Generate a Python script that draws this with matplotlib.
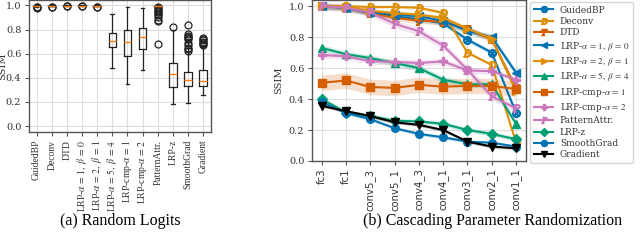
import matplotlib
matplotlib.use("Agg")
import matplotlib.pyplot as plt
import numpy as np

plt.rcParams['mathtext.fontset'] = 'stix'

# ---- (a) Random Logits: box statistics per method
methods_a = ["GuidedBP", "Deconv", "DTD",
             r"LRP-$\alpha\,=\,1,\ \beta\,=\,0$", r"LRP-$\alpha\,=\,2,\ \beta\,=\,1$",
             r"LRP-$\alpha\,=\,5,\ \beta\,=\,4$",
             r"LRP-cmp-$\alpha\,=\,1$", r"LRP-cmp-$\alpha\,=\,2$", "PatternAttr.",
             "LRP-z", "SmoothGrad", "Gradient"]
med = [0.997, 0.998, 0.999, 0.999, 0.998, 0.704, 0.698, 0.735, 0.998, 0.428, 0.380, 0.375]
q1 = [0.995, 0.996, 0.998, 0.998, 0.996, 0.652, 0.582, 0.638, 0.996, 0.320, 0.334, 0.330]
q3 = [0.999, 0.999, 1.000, 1.000, 0.999, 0.768, 0.800, 0.815, 0.999, 0.520, 0.450, 0.464]
wlo = [0.990, 0.992, 0.995, 0.995, 0.992, 0.478, 0.345, 0.464, 0.990, 0.180, 0.188, 0.255]
whi = [1.000, 1.000, 1.000, 1.000, 1.000, 0.928, 0.990, 0.975, 1.000, 0.795, 0.700, 0.665]
fliers = [[0.985, 0.980, 0.988], [0.989, 0.990], [0.993, 0.992], [0.993, 0.992], [0.989, 0.990],
          [], [], [],
          [0.985, 0.975, 0.965, 0.955, 0.945, 0.93, 0.92, 0.90, 0.88, 0.87, 0.677],
          [0.82],
          [0.835, 0.76, 0.75, 0.74, 0.73, 0.72, 0.69, 0.67, 0.65, 0.64, 0.62],
          [0.73, 0.72, 0.71, 0.70, 0.69, 0.68, 0.67]]

# ---- (b) Cascading Parameter Randomization
layers = ["fc3", "fc1", "conv5_3", "conv5_1", "conv4_3", "conv4_1", "conv3_1", "conv2_1", "conv1_1"]
names_b = ["GuidedBP", "Deconv", "DTD",
           r"LRP-$\alpha\,=\,1,\ \beta\,=\,0$", r"LRP-$\alpha\,=\,2,\ \beta\,=\,1$",
           r"LRP-$\alpha\,=\,5,\ \beta\,=\,4$",
           r"LRP-cmp-$\alpha\,=\,1$", r"LRP-cmp-$\alpha\,=\,2$", "PatternAttr.",
           "LRP-z", "SmoothGrad", "Gradient"]
guided = [1.0, 0.99, 0.955, 0.935, 0.915, 0.89, 0.784, 0.70, 0.31]
deconv = [1.0, 1.0, 0.995, 0.995, 0.99, 0.957, 0.70, 0.62, 0.12]
dtd = [1.0, 0.99, 0.955, 0.925, 0.907, 0.90, 0.85, 0.785, 0.47]
lrp_a1 = [1.0, 0.99, 0.96, 0.946, 0.935, 0.905, 0.84, 0.80, 0.57]
lrp_a2 = [1.0, 0.995, 0.97, 0.955, 0.945, 0.925, 0.855, 0.79, 0.45]
lrp_a5 = [0.73, 0.69, 0.665, 0.633, 0.60, 0.525, 0.495, 0.495, 0.24]
cmp_a1 = [0.505, 0.52, 0.478, 0.472, 0.492, 0.48, 0.485, 0.485, 0.465]
cmp_a2 = [0.685, 0.676, 0.645, 0.64, 0.633, 0.643, 0.585, 0.58, 0.525]
pattern = [1.0, 0.99, 0.96, 0.886, 0.838, 0.745, 0.59, 0.417, 0.34]
lrp_z = [0.40, 0.313, 0.29, 0.26, 0.255, 0.24, 0.20, 0.175, 0.14]
smooth = [0.38, 0.31, 0.27, 0.212, 0.175, 0.153, 0.125, 0.118, 0.093]
grad = [0.356, 0.322, 0.29, 0.25, 0.233, 0.20, 0.125, 0.093, 0.082]
band = [0.015, 0.01, 0.02, 0.02, 0.015, 0.02, 0.05, 0.02, 0.025, 0.015, 0.01, 0.01]

series = [guided, deconv, dtd, lrp_a1, lrp_a2, lrp_a5, cmp_a1, cmp_a2, pattern, lrp_z, smooth, grad]
colors = ["#0173b2", "#de8f05", "#d55e00", "#0173b2", "#de8f05", "#029e73",
          "#d55e00", "#cc78bc", "#cc78bc", "#029e73", "#0173b2", "black"]
markers = [r"$\otimes$", r"$D$", r"$T$", "<", ">", "^", "s", "P", r"$P$", "D", "o", "v"]

fig = plt.figure(figsize=(6.4, 2.45), dpi=100)
ax1 = fig.add_axes([0.0453, 0.461, 0.284, 0.539])
ax2 = fig.add_axes([0.4875, 0.343, 0.334, 0.657])

spine_col = "#555555"
for ax in (ax1, ax2):
    ax.grid(True, color="#dddddd", linewidth=0.8)
    ax.set_axisbelow(True)
    for s in ax.spines.values():
        s.set_color(spine_col)
        s.set_linewidth(1.0)
    ax.tick_params(colors=spine_col, labelcolor="#333333", length=3, width=0.8, pad=2.5)

# left: boxplots
stats = []
for i in range(len(methods_a)):
    stats.append(dict(med=med[i], q1=q1[i], q3=q3[i], whislo=wlo[i], whishi=whi[i],
                      fliers=fliers[i], label=methods_a[i]))
ax1.bxp(stats, positions=range(1, 13), widths=0.5,
        boxprops=dict(color="#222222", linewidth=0.9),
        whiskerprops=dict(color="#222222", linewidth=0.9),
        capprops=dict(color="#222222", linewidth=0.9),
        medianprops=dict(color="#ff7f0e", linewidth=1.0),
        flierprops=dict(marker="o", markerfacecolor="none", markeredgecolor="#222222",
                        markersize=5, markeredgewidth=0.9))
ax1.set_xlim(0.5, 12.5)
ax1.set_ylim(-0.05, 1.045)
ax1.set_yticks([0.0, 0.2, 0.4, 0.6, 0.8, 1.0])
ax1.set_xticks(range(1, 13))
ax1.set_xticklabels(methods_a, rotation=90, fontsize=6.9, family="Liberation Serif")
ax1.set_ylabel("SSIM", fontsize=7, family="DejaVu Serif", color="#333333")
ax1.yaxis.set_label_coords(-0.118, 0.5)
for lab in ax1.get_yticklabels():
    lab.set_family("DejaVu Serif")
    lab.set_fontsize(7)

# right: lines with bands
x = np.arange(len(layers))
for ys, c, m, n, b in zip(series, colors, markers, names_b, band):
    ys = np.array(ys)
    ax2.fill_between(x, ys - b, ys + b, color=c, alpha=0.2, linewidth=0)
    ax2.plot(x, ys, color=c, marker=m, markersize=5.5, linewidth=1.5, label=n)
ax2.set_xlim(-0.4, 8.4)
ax2.set_ylim(0, 1.04)
ax2.set_yticks([0.0, 0.2, 0.4, 0.6, 0.8, 1.0])
ax2.set_xticks(x)
ax2.set_xticklabels(layers, rotation=90, fontsize=7.3, family="DejaVu Sans")
ax2.set_ylabel("SSIM", fontsize=7, family="DejaVu Serif", color="#333333")
for lab in ax2.get_yticklabels():
    lab.set_family("DejaVu Serif")
    lab.set_fontsize(7)

leg = ax2.legend(loc="upper left", bbox_to_anchor=(530 / 640, 1 - 2 / 245),
                 bbox_transform=fig.transFigure, prop=dict(family="DejaVu Serif", size=6.5),
                 frameon=True, edgecolor="#cccccc", handlelength=2.2, labelspacing=0.26,
                 borderpad=0.4, handletextpad=0.7, markerscale=0.8, borderaxespad=0)
for t in leg.get_texts():
    t.set_color("#333333")

fig.text(120 / 640, 1 - 221 / 245, "(a) Random Logits", ha="center", va="center",
         fontsize=11.5, family="Liberation Serif")
fig.text(493 / 640, 1 - 221 / 245, "(b) Cascading Parameter Randomization", ha="center",
         va="center", fontsize=11.5, family="Liberation Serif")

fig.savefig("out.png", dpi=100)
